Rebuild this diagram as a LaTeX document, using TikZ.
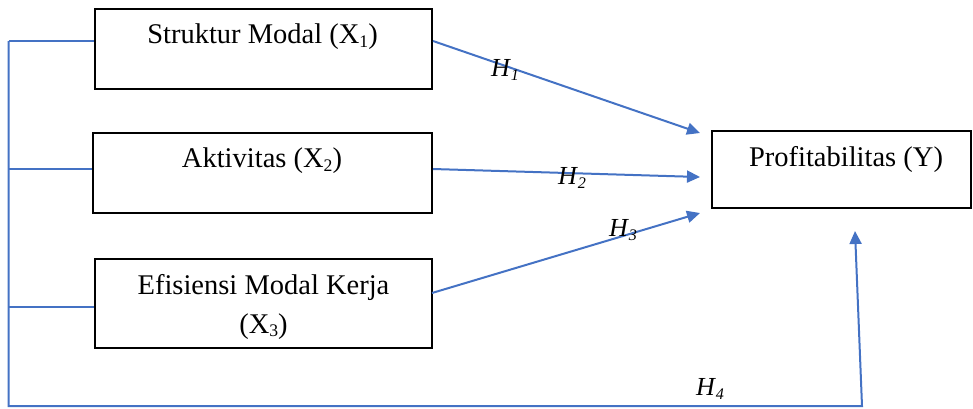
\documentclass[tikz,border=0pt]{standalone}
\usepackage{fontspec}
\setmainfont{Liberation Serif}
\usetikzlibrary{arrows.meta,calc}
\definecolor{lineblue}{RGB}{68,114,196}
\newcommand{\mysub}[1]{\raisebox{-0.12em}{\fontsize{0.62\dimexpr\fontdimen6\font\relax}{1em}\selectfont #1}}
\begin{document}
\begin{tikzpicture}[x=1pt,y=-1pt,
  box/.style={draw=black,line width=2pt,inner sep=0pt},
  txt/.style={inner sep=0pt,font=\fontsize{28.5}{38.5}\selectfont,align=center},
  hlab/.style={inner sep=0pt,font=\fontsize{26}{30}\selectfont},
  conn/.style={draw=lineblue,line width=2pt},
  arr/.style={conn,-{Triangle[length=13pt,width=12pt]}}]
\useasboundingbox (0,0) rectangle (973,408);
% boxes
\node[box,minimum width=337pt,minimum height=80pt] (b1) at (263.5,49) {};
\node[box,minimum width=339pt,minimum height=80pt] (b2) at (262.5,173) {};
\node[box,minimum width=337pt,minimum height=89pt] (b3) at (263.5,303.5) {};
\node[box,minimum width=259pt,minimum height=77pt] (by) at (841.5,169.5) {};
% texts
\node[txt] (x1) at (262.5,37) {Struktur Modal (X\mysub{1})};
\node[txt] (x2) at (262,161) {Aktivitas (X\mysub{2})};
\node[txt] (x3) at (263.5,307) {Efisiensi Modal Kerja\\(X\mysub{3})};
\node[txt] (y) at (846,159.5) {Profitabilitas (Y)};
% coordinates
\coordinate (L1) at (8.5,41);
\coordinate (L2) at (8.5,169);
\coordinate (L3) at (8.5,307);
\coordinate (L4) at (8.5,406);
\coordinate (R4) at (862,406);
\coordinate (T1) at (700,133);
\coordinate (T2) at (700,177);
\coordinate (T3) at (700,213);
\coordinate (T4) at (855,231);
\coordinate (S3) at (432,293);
% connectors
\draw[conn] (L1) -- (b1.west |- L1);
\draw[conn] (L2) -- (b2.west |- L2);
\draw[conn] (L3) -- (b3.west |- L3);
\draw[arr] (L1) -- (L4) -- (R4) -- (T4);
\draw[arr] (b1.east |- L1) -- (T1);
\draw[arr] (b2.east |- L2) -- (T2);
\draw[arr] (S3) -- (T3);
% labels
\node[hlab] (h1) at (505,70) {\textit{H}\mysub{\textit{1}}};
\node[hlab] (h2) at (572,178) {\textit{H}\mysub{\textit{2}}};
\node[hlab] (h3) at (623,230) {\textit{H}\mysub{\textit{3}}};
\node[hlab] (h4) at (710,389) {\textit{H}\mysub{\textit{4}}};
\end{tikzpicture}
\end{document}
